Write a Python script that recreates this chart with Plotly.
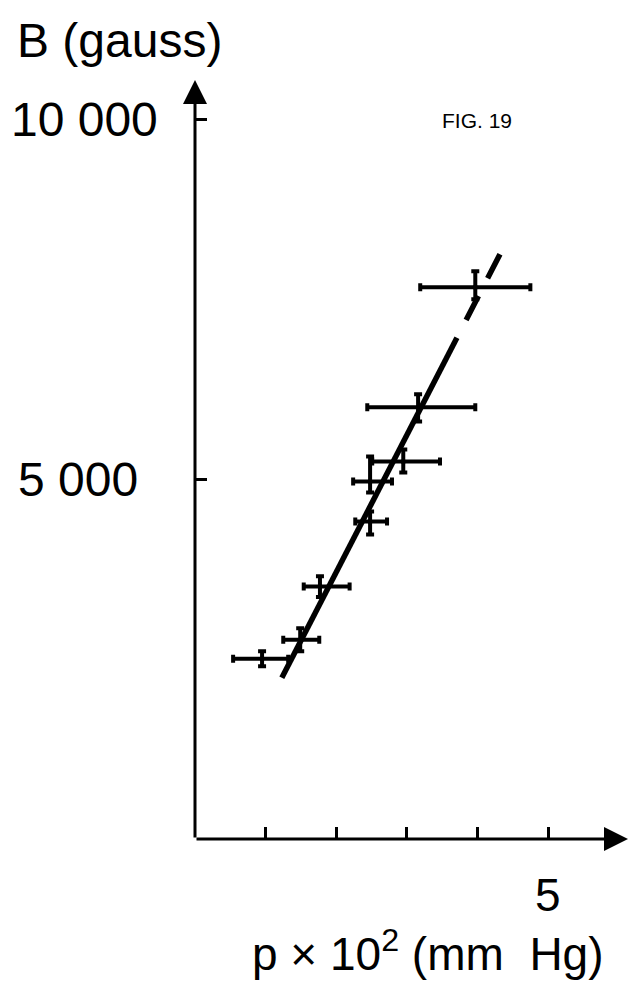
import plotly.graph_objects as go

# ---- data ----
p_vals = [0.95, 1.49, 1.77, 2.48, 2.48, 2.95, 3.16, 3.97]          # p x 10^2 (mm Hg)
B_vals = [2507, 2772, 3510, 4972, 4415, 5251, 6003, 7674]          # B (gauss)
p_err_minus = [0.41, 0.24, 0.23, 0.24, 0.21, 0.44, 0.72, 0.78]
p_err_plus = [0.37, 0.27, 0.42, 0.31, 0.24, 0.52, 0.81, 0.78]
B_err_minus = [104, 160, 146, 153, 181, 153, 195, 167]
B_err_plus = [104, 160, 146, 348, 139, 167, 181, 223]

fit_p_solid = [1.23, 3.71]
fit_B_solid = [2242, 6970]
fit_p_dash = [3.84, 4.32]
fit_B_dash = [7218, 8134]

x_ticks = [1, 2, 3, 4, 5]
x_tick_labels = ["", "", "", "", "5"]
y_ticks = [5000, 10000]
y_tick_labels = ["5 000", "10 000"]

X_MAX = 6.133
Y_MAX = 10556

fig = go.Figure()

fig.add_trace(go.Scatter(
    x=p_vals, y=B_vals, mode="markers",
    marker=dict(size=5, color="black"),
    error_x=dict(type="data", symmetric=False, array=p_err_plus, arrayminus=p_err_minus,
                 color="black", thickness=4, width=4),
    error_y=dict(type="data", symmetric=False, array=B_err_plus, arrayminus=B_err_minus,
                 color="black", thickness=4, width=4),
    showlegend=False, hoverinfo="skip",
))

fig.add_trace(go.Scatter(
    x=fit_p_solid, y=fit_B_solid, mode="lines",
    line=dict(color="black", width=5.5), showlegend=False, hoverinfo="skip",
))
fig.add_trace(go.Scatter(
    x=fit_p_dash, y=fit_B_dash, mode="lines",
    line=dict(color="black", width=5.5, dash="27px,20px"), showlegend=False, hoverinfo="skip",
))

regular = "Liberation Sans, Arial, sans-serif"

annotations = []
# axis arrows
annotations.append(dict(x=X_MAX, y=0, ax=0, ay=0, xref="x", yref="y", axref="x", ayref="y",
                        text="", showarrow=True, arrowhead=2, arrowsize=1.6, arrowwidth=3,
                        arrowcolor="black", standoff=0, startstandoff=0))
annotations.append(dict(x=0, y=Y_MAX, ax=0, ay=0, xref="x", yref="y", axref="x", ayref="y",
                        text="", showarrow=True, arrowhead=2, arrowsize=1.6, arrowwidth=3,
                        arrowcolor="black", standoff=0, startstandoff=0))

# y tick labels
y_label_right = {5000: -0.127, 10000: -0.081}
for v, t in zip(y_ticks, y_tick_labels):
    annotations.append(dict(x=y_label_right[v], y=v, xref="paper", yref="y", text=t,
                            showarrow=False, xanchor="right", yanchor="middle",
                            font=dict(family=regular, size=48, color="black")))

# x tick label
for v, t in zip(x_ticks, x_tick_labels):
    if t:
        annotations.append(dict(x=v, y=-0.0738, xref="x", yref="paper", text=t,
                                showarrow=False, xanchor="center", yanchor="middle",
                                font=dict(family=regular, size=46, color="black")))

annotations.append(dict(x=-0.4157, y=1.0514, xref="paper", yref="paper", text="B (gauss)",
                        showarrow=False, xanchor="left", yanchor="middle",
                        font=dict(family=regular, size=48, color="black")))
annotations.append(dict(x=0.651, y=0.946, xref="paper", yref="paper", text="FIG. 19",
                        showarrow=False, xanchor="center", yanchor="middle",
                        font=dict(family=regular, size=21, color="black")))
annotations.append(dict(x=0.538, y=-0.1482, xref="paper", yref="paper",
                        text="p × 10<sup>2</sup> (mm\u00a0\u00a0Hg)",
                        showarrow=False, xanchor="center", yanchor="middle",
                        font=dict(family=regular, size=46, color="black")))

fig.update_layout(
    width=632, height=983,
    margin=dict(l=195, r=4, t=80, b=144),
    paper_bgcolor="white", plot_bgcolor="white",
    xaxis=dict(range=[0, X_MAX], showgrid=False, zeroline=False, showline=False,
               tickmode="array", tickvals=x_ticks, ticktext=["" for _ in x_ticks],
               ticks="inside", ticklen=12, tickwidth=3, tickcolor="black", fixedrange=True),
    yaxis=dict(range=[0, Y_MAX], showgrid=False, zeroline=False, showline=False,
               tickmode="array", tickvals=y_ticks, ticktext=["" for _ in y_ticks],
               ticks="inside", ticklen=12, tickwidth=3, tickcolor="black", fixedrange=True),
    annotations=annotations,
)

fig.write_html("out.html", config={"displayModeBar": False, "staticPlot": True},
               post_script="document.body.style.margin='0';document.body.style.overflow='hidden';")
